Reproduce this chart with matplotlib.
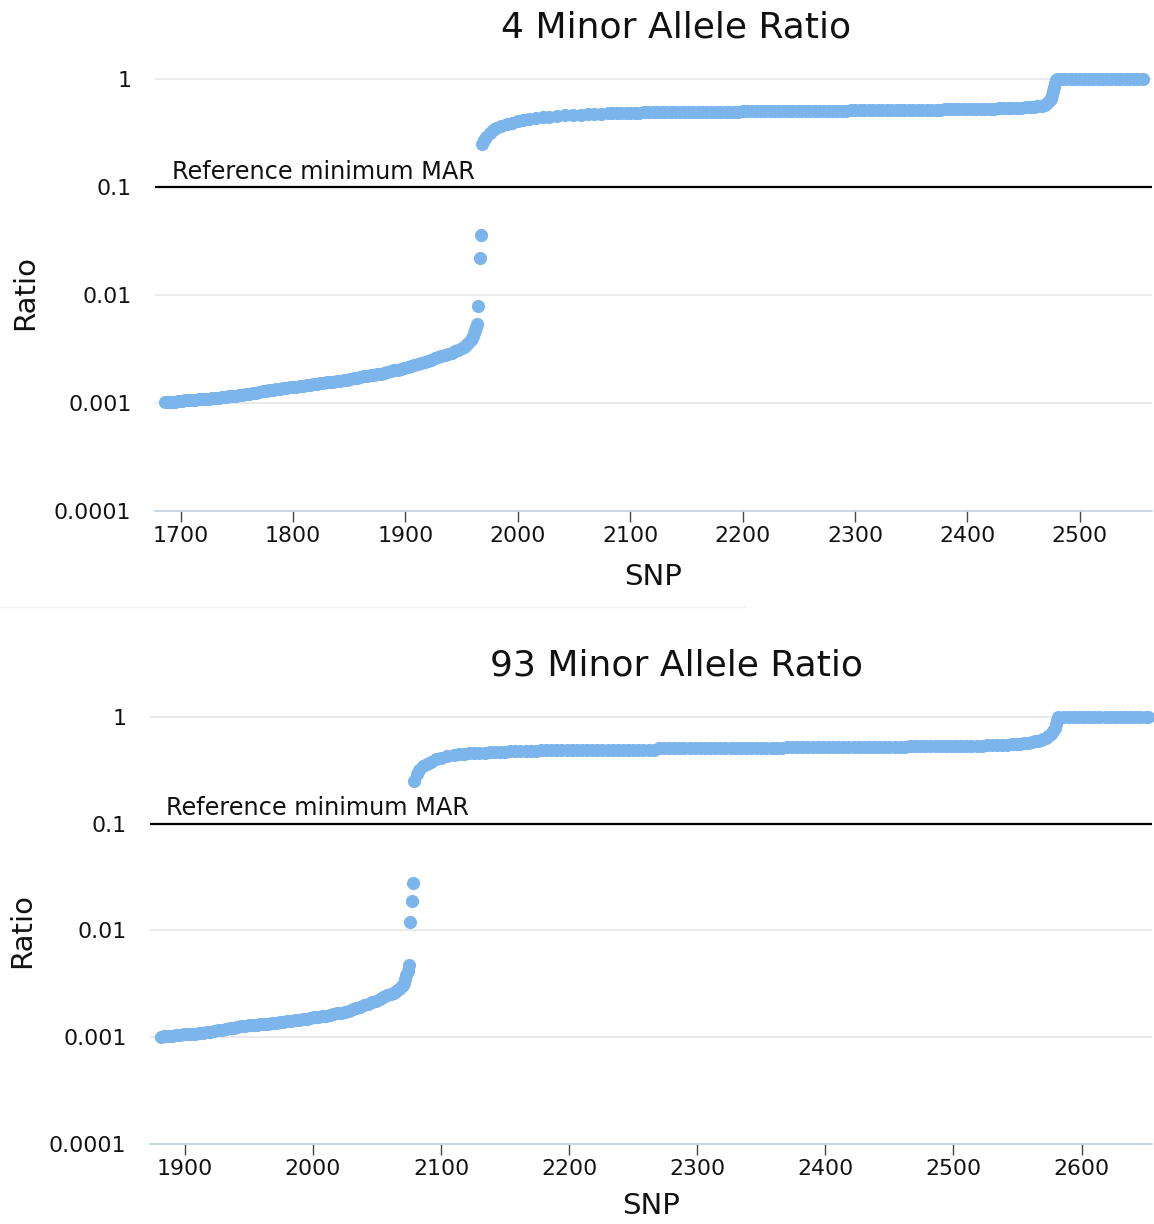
import matplotlib
matplotlib.use("Agg")
import matplotlib.pyplot as plt
from matplotlib.lines import Line2D

plt.rcParams['font.family'] = ['DejaVu Sans']

BLUE = '#7cb5ec'

# ---- muestra 4 ----
titulo_1 = "4 Minor Allele Ratio"
snp_4_bajo = [1686, 1689, 1692, 1695, 1698, 1701, 1704, 1707, 1710, 1713,
              1716, 1719, 1722, 1725, 1728, 1731, 1734, 1737, 1740, 1743,
              1746, 1749, 1752, 1755, 1758, 1761, 1764, 1767, 1770, 1773,
              1776, 1779, 1782, 1785, 1788, 1791, 1794, 1797, 1800, 1803,
              1806, 1809, 1812, 1815, 1818, 1821, 1824, 1827, 1830, 1833,
              1836, 1839, 1842, 1845, 1848, 1851, 1854, 1857, 1860, 1863,
              1866, 1869, 1872, 1875, 1878, 1881, 1884, 1887, 1890, 1893,
              1896, 1899, 1902, 1905, 1908, 1911, 1914, 1917, 1920, 1923,
              1926, 1929, 1932, 1935, 1938, 1941, 1944, 1947, 1950, 1952,
              1954, 1956, 1958, 1959, 1960, 1961, 1962, 1963, 1964,
              1965, 1966, 1967]
mar_4_bajo = [0.00102, 0.00102, 0.00103, 0.00103, 0.00104, 0.00105, 0.00106, 0.00106, 0.00107, 0.00107,
              0.00108, 0.00109, 0.00110, 0.00110, 0.00111, 0.00111, 0.00112, 0.00113, 0.00114, 0.00115,
              0.00116, 0.00117, 0.00118, 0.00119, 0.00121, 0.00122, 0.00124, 0.00125, 0.00127, 0.00128,
              0.00130, 0.00131, 0.00133, 0.00134, 0.00136, 0.00137, 0.00139, 0.00140, 0.00141, 0.00142,
              0.00143, 0.00144, 0.00146, 0.00147, 0.00149, 0.00150, 0.00152, 0.00153, 0.00155, 0.00156,
              0.00158, 0.00159, 0.00161, 0.00163, 0.00165, 0.00167, 0.00170, 0.00172, 0.00174, 0.00176,
              0.00178, 0.00180, 0.00182, 0.00184, 0.00186, 0.00189, 0.00192, 0.00196, 0.00200, 0.00204,
              0.00208, 0.00211, 0.00215, 0.00219, 0.00224, 0.00229, 0.00234, 0.00240, 0.00246, 0.00252,
              0.00259, 0.00265, 0.00272, 0.00279, 0.00287, 0.00293, 0.00300, 0.00310, 0.00322, 0.00333,
              0.00345, 0.00360, 0.00380, 0.00398, 0.00420, 0.00443, 0.00470, 0.00503, 0.00540,
              0.0079, 0.022, 0.036]
snp_4_alto = [1968, 1970, 1972, 1975, 1978, 1981, 1985, 1990, 1995, 2000, 2005, 2010,
              2016, 2022, 2028, 2035, 2042, 2049, 2056, 2062, 2068, 2074,
              2080, 2084, 2088, 2092, 2096, 2100, 2104, 2108, 2112, 2116,
              2120, 2124, 2128, 2132, 2136, 2140, 2144, 2148, 2152, 2156,
              2160, 2164, 2168, 2172, 2176, 2180, 2184, 2188, 2192, 2196,
              2200, 2204, 2208, 2212, 2216, 2220, 2224, 2228, 2232, 2236,
              2240, 2244, 2248, 2252, 2256, 2260, 2264, 2268, 2272, 2276,
              2280, 2284, 2288, 2292, 2296, 2300, 2304, 2308, 2312, 2316,
              2320, 2324, 2328, 2332, 2336, 2340, 2344, 2348, 2352, 2356,
              2360, 2364, 2368, 2372, 2376, 2380, 2384, 2388, 2392, 2396,
              2400, 2404, 2408, 2412, 2416, 2420, 2424, 2428, 2432, 2436,
              2440, 2444, 2448, 2452, 2456,
              2459, 2462, 2466, 2469, 2471, 2473, 2474, 2475, 2476, 2477, 2478, 2479, 2480,
              2484, 2488, 2492, 2496, 2500, 2504, 2508, 2512, 2516, 2520,
              2524, 2528, 2532, 2536, 2540, 2544, 2548, 2552, 2556]
mar_4_alto = [0.25, 0.27, 0.29, 0.316, 0.335, 0.35, 0.365, 0.38, 0.395, 0.41, 0.42, 0.43,
              0.437, 0.443, 0.449, 0.455, 0.46, 0.465, 0.469, 0.472, 0.475, 0.478,
              0.481, 0.482, 0.484, 0.485, 0.486, 0.487, 0.488, 0.489, 0.490, 0.490,
              0.491, 0.491, 0.492, 0.493, 0.494, 0.494, 0.495, 0.495, 0.496, 0.496,
              0.497, 0.497, 0.498, 0.498, 0.499, 0.499, 0.500, 0.500, 0.500, 0.500,
              0.501, 0.501, 0.502, 0.502, 0.503, 0.503, 0.504, 0.504, 0.505, 0.505,
              0.506, 0.506, 0.507, 0.507, 0.508, 0.508, 0.509, 0.509, 0.510, 0.510,
              0.510, 0.510, 0.511, 0.511, 0.512, 0.512, 0.513, 0.513, 0.514, 0.514,
              0.515, 0.515, 0.516, 0.516, 0.517, 0.517, 0.518, 0.518, 0.519, 0.519,
              0.520, 0.520, 0.521, 0.521, 0.522, 0.523, 0.524, 0.524, 0.525, 0.526,
              0.527, 0.528, 0.529, 0.530, 0.531, 0.532, 0.533, 0.534, 0.536, 0.537,
              0.539, 0.541, 0.543, 0.546, 0.550,
              0.554, 0.558, 0.566, 0.578, 0.595, 0.62, 0.66, 0.71, 0.77, 0.84, 0.92, 0.98, 1.0,
              1.0, 1.0, 1.0, 1.0, 1.0, 1.0, 1.0, 1.0, 1.0, 1.0,
              1.0, 1.0, 1.0, 1.0, 1.0, 1.0, 1.0, 1.0, 1.0]

# ---- muestra 93 ----
titulo_2 = "93 Minor Allele Ratio"
snp_93_bajo = [1881, 1884, 1887, 1890, 1893, 1896, 1899, 1902, 1905, 1908,
               1911, 1914, 1917, 1920, 1923, 1926, 1929, 1932, 1935, 1938,
               1941, 1944, 1947, 1950, 1953, 1956, 1959, 1962, 1965, 1968,
               1971, 1974, 1977, 1980, 1983, 1986, 1989, 1992, 1995, 1998,
               2001, 2004, 2007, 2010, 2013, 2016, 2019, 2022, 2025, 2028,
               2031, 2034, 2037, 2040, 2043, 2046, 2049, 2052, 2055, 2058,
               2061, 2063, 2065, 2067, 2069, 2070, 2071, 2072, 2073, 2074,
               2075, 2076, 2077, 2078]
mar_93_bajo = [0.00101, 0.00102, 0.00103, 0.00103, 0.00104, 0.00105, 0.00106, 0.00106, 0.00107, 0.00108,
               0.00109, 0.00110, 0.00112, 0.00113, 0.00115, 0.00116, 0.00118, 0.00120, 0.00122, 0.00123,
               0.00125, 0.00126, 0.00128, 0.00129, 0.00130, 0.00131, 0.00132, 0.00133, 0.00134, 0.00135,
               0.00137, 0.00138, 0.00140, 0.00141, 0.00143, 0.00144, 0.00146, 0.00147, 0.00149, 0.00151,
               0.00153, 0.00155, 0.00157, 0.00159, 0.00162, 0.00164, 0.00167, 0.00170, 0.00173, 0.00177,
               0.00182, 0.00187, 0.00193, 0.00199, 0.00205, 0.00212, 0.00219, 0.00228, 0.00237, 0.00246,
               0.00255, 0.00262, 0.00270, 0.00280, 0.00295, 0.00307, 0.00320, 0.00350, 0.00380, 0.0042,
               0.0047, 0.0121, 0.019, 0.0276]
snp_93_alto = [2079, 2081, 2083, 2086, 2089, 2092, 2096, 2100, 2105, 2110,
               2114, 2118, 2122, 2126, 2130, 2134, 2138, 2142, 2146, 2150,
               2154, 2158, 2162, 2166, 2170, 2174, 2178, 2182, 2186, 2190,
               2194, 2198, 2202, 2206, 2210, 2214, 2218, 2222, 2226, 2230,
               2234, 2238, 2242, 2246, 2250, 2254, 2258, 2262, 2266,
               2270, 2274, 2278, 2282, 2286, 2290, 2294, 2298, 2302, 2306,
               2310, 2314, 2318, 2322, 2326, 2330, 2334, 2338, 2342, 2346,
               2350, 2354, 2358, 2362, 2366,
               2370, 2374, 2378, 2382, 2386, 2390, 2394, 2398, 2402, 2406,
               2410, 2414, 2418, 2422, 2426, 2430, 2434, 2438, 2442, 2446,
               2450, 2454, 2458, 2462,
               2466, 2470, 2474, 2478, 2482, 2486, 2490, 2494, 2498, 2502,
               2506, 2510, 2514,
               2518, 2522, 2526, 2530, 2534, 2538, 2542, 2546, 2549, 2552,
               2555, 2558, 2561, 2564, 2566, 2568, 2570, 2572, 2574, 2576,
               2578, 2579, 2580, 2581, 2582,
               2586, 2590, 2594, 2598, 2602, 2606, 2610, 2614, 2618, 2622,
               2626, 2630, 2634, 2638, 2642, 2646, 2650, 2652]
mar_93_alto = [0.25, 0.29, 0.32, 0.345, 0.365, 0.38, 0.40, 0.415, 0.43, 0.44,
               0.445, 0.45, 0.454, 0.457, 0.46, 0.463, 0.466, 0.468, 0.47, 0.472,
               0.474, 0.475, 0.477, 0.478, 0.48, 0.482, 0.484, 0.485, 0.487, 0.488,
               0.49, 0.49, 0.49, 0.49, 0.49, 0.49, 0.49, 0.49, 0.49, 0.49,
               0.49, 0.49, 0.49, 0.49, 0.49, 0.49, 0.49, 0.49, 0.49,
               0.505, 0.505, 0.505, 0.505, 0.505, 0.505, 0.505, 0.505, 0.505, 0.505,
               0.505, 0.505, 0.505, 0.505, 0.505, 0.505, 0.505, 0.505, 0.505, 0.505,
               0.505, 0.505, 0.505, 0.505, 0.505,
               0.52, 0.52, 0.52, 0.52, 0.52, 0.52, 0.52, 0.52, 0.52, 0.52,
               0.52, 0.52, 0.52, 0.52, 0.52, 0.52, 0.52, 0.52, 0.52, 0.52,
               0.52, 0.52, 0.52, 0.52,
               0.535, 0.535, 0.535, 0.535, 0.535, 0.535, 0.535, 0.535, 0.535, 0.535,
               0.535, 0.535, 0.535,
               0.537, 0.538, 0.54, 0.542, 0.544, 0.546, 0.548, 0.551, 0.554, 0.558,
               0.563, 0.569, 0.577, 0.588, 0.598, 0.61, 0.624, 0.64, 0.665, 0.695,
               0.74, 0.79, 0.86, 0.94, 1.0,
               1.0, 1.0, 1.0, 1.0, 1.0, 1.0, 1.0, 1.0, 1.0, 1.0,
               1.0, 1.0, 1.0, 1.0, 1.0, 1.0, 1.0, 1.0]

marcas_y = [0.0001, 0.001, 0.01, 0.1, 1]
etiquetas_y = ["0.0001", "0.001", "0.01", "0.1", "1"]
ticks_x_1 = [1700, 1800, 1900, 2000, 2100, 2200, 2300, 2400, 2500]
ticks_x_2 = [1900, 2000, 2100, 2200, 2300, 2400, 2500, 2600]
mar_min = 0.1


def panel(ax, xs, ys, xlim, xticks, xlab_pad, ref_x):
    ax.set_yscale('log')
    for x, y in zip(xs, ys):
        ax.scatter(x, y, s=90, color=BLUE, linewidths=0, zorder=3, clip_on=False)
    ax.set_xlim(*xlim)
    ax.set_ylim(0.0001, 1.5)
    ax.set_yticks(marcas_y)
    ax.set_yticklabels(etiquetas_y)
    ax.yaxis.set_minor_locator(matplotlib.ticker.NullLocator())
    ax.set_xticks(xticks)
    ax.set_xticklabels([str(t) for t in xticks])
    for v in marcas_y[1:]:
        if v != mar_min:
            ax.axhline(v, color='#e6e6e6', lw=1.2, zorder=1)
    ax.axhline(mar_min, color='black', lw=1.6, zorder=2)
    ax.text(ref_x, mar_min * 1.07, "Reference minimum MAR", fontsize=17.3,
            color='#111111', va='bottom', ha='left', transform=ax.get_yaxis_transform())
    for s in ['top', 'right', 'left']:
        ax.spines[s].set_visible(False)
    ax.spines['bottom'].set_color('#c0d0e0')
    ax.spines['bottom'].set_linewidth(1.2)
    ax.tick_params(axis='y', length=0, labelsize=15.8, pad=17, labelcolor='#111111')
    ax.tick_params(axis='x', length=8, width=1, color='#444444', labelsize=15.8,
                   labelcolor='#111111', pad=3)
    ax.set_xlabel("SNP", fontsize=21, labelpad=xlab_pad, color='#111111')


fig = plt.figure(figsize=(11.54, 12.24), dpi=100)

ax1 = fig.add_axes([155 / 1154, 1 - 511 / 1224, 997 / 1154, 451 / 1224])
panel(ax1, [snp_4_bajo, snp_4_alto], [mar_4_bajo, mar_4_alto],
      (1677.2, 2564.2), ticks_x_1, 12, 0.017)
fig.text(676 / 1154, 1 - 27 / 1224, titulo_1, fontsize=26, ha='center', va='center',
         color='#111111')
fig.text(25 / 1154, 1 - 293 / 1224, "Ratio", rotation=90, fontsize=21,
         ha='center', va='center', color='#111111')

ax2 = fig.add_axes([150 / 1154, 1 - 1144 / 1224, 1002 / 1154, 446 / 1224])
panel(ax2, [snp_93_bajo, snp_93_alto], [mar_93_bajo, mar_93_alto],
      (1872.8, 2655.0), ticks_x_2, 9, 0.016)
fig.text(677 / 1154, 1 - 665 / 1224, titulo_2, fontsize=26, ha='center', va='center',
         color='#111111')
fig.text(22 / 1154, 1 - 930 / 1224, "Ratio", rotation=90, fontsize=21,
         ha='center', va='center', color='#111111')

fig.add_artist(Line2D([0, 745 / 1154], [1 - 607 / 1224, 1 - 607 / 1224],
                      color='#f2f2f2', lw=1, transform=fig.transFigure))

fig.savefig("out.png", dpi=100)
